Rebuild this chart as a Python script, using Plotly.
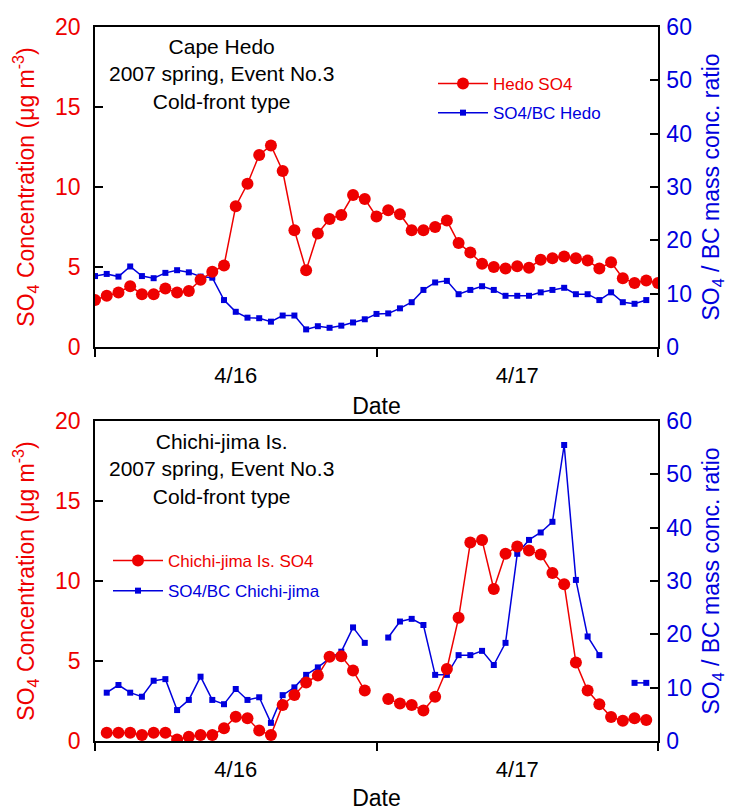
import plotly.graph_objects as go
import pandas as pd

# ---- data (hourly, 2007-04-16 00:00 .. 2007-04-18 00:00) ----
hours = list(range(49))
base = pd.Timestamp("2007-04-16 00:00")
times = [(base + pd.Timedelta(hours=h)).strftime("%Y-%m-%d %H:%M") for h in hours]

hedo_so4 = [2.94, 3.2, 3.4, 3.8, 3.3, 3.3, 3.65, 3.4, 3.5, 4.2, 4.7, 5.1,
            8.8, 10.2, 12.0, 12.6, 11.0, 7.3, 4.8, 7.1, 8.0, 8.25, 9.5, 9.25, 8.15,
            8.55, 8.3, 7.3, 7.3, 7.5, 7.9, 6.5, 5.9, 5.2, 5.0, 4.9, 5.05,
            4.95, 5.45, 5.55, 5.65, 5.55, 5.4, 4.9, 5.3, 4.3, 4.0, 4.15, 4.0]

hedo_ratio = [13.3, 13.7, 13.2, 15.1, 13.3, 12.9, 13.9, 14.4, 14.0, 13.2, 13.0, 8.8,
              6.6, 5.5, 5.4, 4.75, 5.9, 5.9, 3.3, 3.9, 3.6, 4.0, 4.6, 5.2, 6.2,
              6.3, 7.25, 8.4, 10.7, 12.1, 12.4, 9.9, 10.7, 11.4, 10.7, 9.6, 9.6,
              9.6, 10.25, 10.7, 11.1, 9.9, 9.9, 8.8, 10.25, 8.4, 8.1, 8.8, None]

chichi_so4 = [None,
              0.52, 0.52, 0.52, 0.38, 0.52, 0.52, 0.1, 0.27, 0.38, 0.38,
              0.79, 1.52, 1.42, 0.65, 0.38, 2.25, 2.875, 3.65, 4.1, 5.27,
              5.3, 4.4, 3.15,
              None,
              2.625, 2.35, 2.25, 1.9, 2.77, 4.5, 7.7, 12.4, 12.56, 9.5,
              11.7, 12.15, 11.9, 11.65, 10.5, 9.8, 4.9, 3.15, 2.3, 1.5,
              1.27, 1.42, 1.31,
              None]

chichi_ratio = [None,
                9.06, 10.5, 9.06, 8.3, 11.3, 11.6, 5.8, 7.7, 12.06, 7.7,
                6.9, 9.75, 7.7, 8.2, 3.4, 8.6, 10.06, 12.4, 13.8, 15.5,
                16.75, 21.3, 18.4,
                None,
                19.4, 22.4, 22.9, 21.75, 12.4, 12.4, 16.1, 16.1, 16.9, 14.25,
                18.4, 35.1, 37.7, 39.1, 41.1, 55.5, 30.2, 19.6, 16.1,
                None, None,
                10.9, 10.9,
                None]

top_labels = ["Cape Hedo", "2007 spring, Event No.3", "Cold-front type"]
bot_labels = ["Chichi-jima Is.", "2007 spring, Event No.3", "Cold-front type"]

RED = "#ee0000"
BLUE = "#0000dd"
W, H = 748, 811
FONT = "Liberation Sans, Arial, sans-serif"

def px_x(p):
    return p / W

def px_y(p):
    return 1 - p / H

fig = go.Figure()

# top panel
fig.add_trace(go.Scatter(x=times, y=hedo_ratio, xaxis="x", yaxis="y",
                         mode="lines+markers", name=f"<span style='color:{BLUE}'>SO4/BC Hedo</span>",
                         line=dict(color=BLUE, width=1.5),
                         marker=dict(symbol="square", size=6, color=BLUE),
                         legend="legend", legendrank=2, legendgroup="tb", connectgaps=False))
fig.add_trace(go.Scatter(x=times, y=hedo_so4, xaxis="x", yaxis="y2",
                         mode="lines+markers", name=f"<span style='color:{RED}'>Hedo SO4</span>",
                         line=dict(color=RED, width=1.5),
                         marker=dict(symbol="circle", size=12, color=RED),
                         legend="legend", legendrank=1, legendgroup="tr", connectgaps=False))
# bottom panel
fig.add_trace(go.Scatter(x=times, y=chichi_ratio, xaxis="x2", yaxis="y3",
                         mode="lines+markers", name=f"<span style='color:{BLUE}'>SO4/BC Chichi-jima</span>",
                         line=dict(color=BLUE, width=1.5),
                         marker=dict(symbol="square", size=6, color=BLUE),
                         legend="legend2", legendrank=2, legendgroup="bb", connectgaps=False))
fig.add_trace(go.Scatter(x=times, y=chichi_so4, xaxis="x2", yaxis="y4",
                         mode="lines+markers", name=f"<span style='color:{RED}'>Chichi-jima Is. SO4</span>",
                         line=dict(color=RED, width=1.5),
                         marker=dict(symbol="circle", size=12, color=RED),
                         legend="legend2", legendrank=1, legendgroup="br", connectgaps=False))

xdom = [px_x(95), px_x(658)]
top_dom = [px_y(347), px_y(27)]
bot_dom = [px_y(741), px_y(421)]

def xaxis_cfg(anchor):
    return dict(domain=xdom, anchor=anchor, type="date", automargin=False,
                range=["2007-04-16 00:00", "2007-04-18 00:00"],
                tick0="2007-04-16", dtick=86400000, ticklabelmode="period",
                tickformat="%-m/%d", ticks="outside", ticklen=8, tickwidth=1.5,
                tickcolor="black", showline=True, linecolor="black", linewidth=1.5,
                mirror=True, showgrid=False, zeroline=False,
                tickfont=dict(size=22, color="black", family=FONT),
                title=dict(text="Date", font=dict(size=23, color="black", family=FONT), standoff=11))

def ratio_axis(dom, anchor):
    return dict(domain=dom, anchor=anchor, side="right", range=[0, 60], dtick=10,
                automargin=False,
                ticks="inside", ticklen=8, tickwidth=1.5, tickcolor="black",
                showline=True, linecolor="black", linewidth=1.5, showgrid=False,
                zeroline=False, tickfont=dict(size=23, color=BLUE, family=FONT),
                ticklabelstandoff=2,
                title=dict(text="SO<sub>4</sub> / BC mass conc. ratio",
                           font=dict(size=23, color=BLUE, family=FONT), standoff=12))

def so4_axis(over, anchor):
    return dict(overlaying=over, anchor=anchor, side="left", range=[0, 20], dtick=5,
                automargin=False,
                ticks="inside", ticklen=8, tickwidth=1.5, tickcolor="black",
                showline=True, linecolor="black", linewidth=1.5, showgrid=False,
                zeroline=False, tickfont=dict(size=23, color=RED, family=FONT),
                ticklabelstandoff=8,
                title=dict(text="SO<sub>4</sub> Concentration (μg m<sup>-3</sup>)",
                           font=dict(size=23, color=RED, family=FONT), standoff=14))

fig.update_layout(
    width=W, height=H, autosize=False,
    margin=dict(l=0, r=0, t=0, b=0, autoexpand=False),
    paper_bgcolor="white", plot_bgcolor="white",
    font=dict(family=FONT, color="black"),
    xaxis=xaxis_cfg("y"),
    xaxis2=xaxis_cfg("y3"),
    yaxis=ratio_axis(top_dom, "x"),
    yaxis2=so4_axis("y", "x"),
    yaxis3=ratio_axis(bot_dom, "x2"),
    yaxis4=so4_axis("y3", "x2"),
    legend=dict(x=px_x(433), y=px_y(66), xanchor="left", yanchor="top",
                bgcolor="rgba(0,0,0,0)", itemwidth=50, tracegroupgap=4,
                traceorder="grouped",
                font=dict(size=17, family=FONT)),
    legend2=dict(x=px_x(108), y=px_y(543), xanchor="left", yanchor="top",
                 bgcolor="rgba(0,0,0,0)", itemwidth=50, tracegroupgap=5,
                 traceorder="grouped",
                 font=dict(size=17, family=FONT)),
    showlegend=True,
)

fig.add_annotation(text="<br>".join(top_labels), xref="paper", yref="paper",
                   x=px_x(221), y=px_y(33), xanchor="center", yanchor="top",
                   showarrow=False, align="center",
                   font=dict(size=21, color="black", family=FONT))
fig.add_annotation(text="<br>".join(bot_labels), xref="paper", yref="paper",
                   x=px_x(221), y=px_y(428), xanchor="center", yanchor="top",
                   showarrow=False, align="center",
                   font=dict(size=21, color="black", family=FONT))

fig.write_html("out.html")
